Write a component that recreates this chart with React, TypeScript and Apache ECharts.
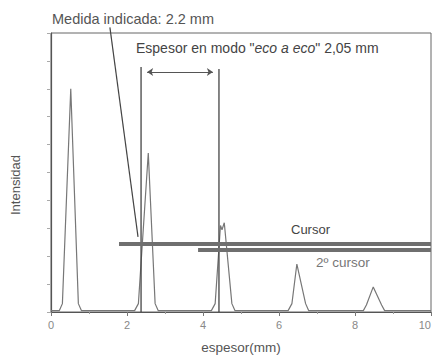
import React, { useEffect, useRef } from "react";
import * as echarts from "echarts";

// Signal trace (espesor in mm, intensity)
const signalX = [0, 0.22, 0.3, 0.52, 0.72, 0.8, 2.2, 2.3, 2.56, 2.74, 2.82, 4.22, 4.32, 4.46, 4.5, 4.56, 4.76, 4.84, 6.24, 6.34, 6.47, 6.7, 6.78, 8.22, 8.3, 8.48, 8.7, 8.78, 10];
const signalY = [0.05, 0.05, 0.3, 8.0, 0.3, 0.05, 0.05, 0.3, 5.7, 0.3, 0.05, 0.05, 0.3, 3.1, 2.95, 3.2, 0.3, 0.05, 0.05, 0.3, 1.72, 0.3, 0.05, 0.05, 0.25, 0.9, 0.25, 0.05, 0.05];

// Echo markers (vertical lines)
const echo1 = { x: 2.37, top: 8.78 };
const echo2 = { x: 4.42, top: 8.71 };
// Thickness arrow
const arrowY = 8.6;
const arrowFrom = 2.53;
const arrowTo = 4.26;
// Cursors
const cursor1 = { start: 1.79, level: 2.44 };
const cursor2 = { start: 3.87, level: 2.22 };
// Pointer from "Medida indicada"
const pointerFrom = [1.55, 10.2];
const pointerTo = [2.29, 2.69];

const xTicks = [0, 2, 4, 6, 8, 10];

export default function App() {
  const ref = useRef<HTMLDivElement>(null);
  useEffect(() => {
    const chart = echarts.init(ref.current!, null, { renderer: "svg" });
    const font = "'Liberation Sans', Arial, sans-serif";
    const textColor = "#555";
    const signal = signalX.map((x, i) => [x, signalY[i]]);
    chart.setOption({
      animation: false,
      backgroundColor: "#fff",
      grid: {
        left: 51,
        right: 4,
        top: 33,
        bottom: 44,
        outerBoundsMode: "none",
        containLabel: false,
        show: true,
        borderColor: "#666",
        borderWidth: 1,
      },
      xAxis: {
        type: "value",
        min: 0,
        max: 10,
        interval: 2,
        axisLine: { show: true, lineStyle: { color: "#555", width: 1 } },
        axisTick: { show: true, length: 4, lineStyle: { color: "#777" } },
        minorTick: { show: true, splitNumber: 2, length: 2, lineStyle: { color: "#999" } },
        splitLine: { show: false },
        axisLabel: {
          color: "#888",
          fontFamily: font,
          fontSize: 11,
          margin: 7,
          alignMaxLabel: "right",
          formatter: (v: number) => (xTicks.includes(v) ? String(v) : ""),
        },
      },
      yAxis: {
        type: "value",
        min: 0,
        max: 10,
        interval: 1,
        axisLine: { show: true, lineStyle: { color: "#555", width: 1.2 } },
        axisTick: { show: true, length: 4, lineStyle: { color: "#aaa" } },
        splitLine: { show: false },
        axisLabel: { show: false },
      },
      series: [
        {
          type: "line",
          data: signal,
          symbol: "none",
          lineStyle: { color: "#777", width: 1.2 },
          markLine: {
            silent: true,
            symbol: ["arrow", "arrow"],
            symbolSize: 6,
            label: { show: false },
            lineStyle: { color: "#555", width: 1, type: "solid" },
            data: [[{ coord: [arrowFrom, arrowY] }, { coord: [arrowTo, arrowY] }]],
          },
        },
        {
          type: "line",
          data: [[echo1.x, 0], [echo1.x, echo1.top]],
          symbol: "none",
          lineStyle: { color: "#444", width: 1.3 },
        },
        {
          type: "line",
          data: [[echo2.x, 0], [echo2.x, echo2.top]],
          symbol: "none",
          lineStyle: { color: "#444", width: 1.3 },
        },
        {
          type: "line",
          data: [[cursor1.start, cursor1.level], [10, cursor1.level]],
          symbol: "none",
          lineStyle: { color: "#6f6f6f", width: 4 },
        },
        {
          type: "line",
          data: [[cursor2.start, cursor2.level], [10, cursor2.level]],
          symbol: "none",
          lineStyle: { color: "#6f6f6f", width: 4 },
        },
        {
          type: "line",
          clip: false,
          data: [pointerFrom, pointerTo],
          symbol: "none",
          lineStyle: { color: "#444", width: 1.2 },
        },
      ],
      graphic: [
        {
          type: "text",
          left: 52,
          top: 11,
          style: { text: "Medida indicada: 2.2 mm", fill: textColor, font: `14.5px ${font}` },
        },
        {
          type: "text",
          left: 136,
          top: 41,
          style: {
            text: '{n|Espesor en modo "}{i|eco a eco}{n|" 2,05 mm}',
            rich: {
              n: { fill: "#444", fontSize: 14, fontFamily: font },
              i: { fill: "#444", fontSize: 14, fontFamily: font, fontStyle: "italic" },
            },
          },
        },
        {
          type: "text",
          left: 291,
          top: 223,
          style: { text: "Cursor", fill: "#444", font: `13px ${font}` },
        },
        {
          type: "text",
          left: 316,
          top: 255,
          style: { text: "2º cursor", fill: "#777", font: `13.5px ${font}` },
        },
        {
          type: "text",
          x: 241,
          y: 347,
          style: {
            text: "espesor(mm)",
            fill: textColor,
            font: `13.5px ${font}`,
            textAlign: "center",
            textVerticalAlign: "middle",
          },
        },
        {
          type: "text",
          x: 15,
          y: 185,
          rotation: Math.PI / 2,
          style: {
            text: "Intensidad",
            fill: textColor,
            font: `13px ${font}`,
            textAlign: "center",
            textVerticalAlign: "middle",
          },
        },
      ],
    });
    return () => chart.dispose();
  }, []);
  return (
    <div
      ref={ref}
      style={{ position: "fixed", left: 0, top: 0, width: 435, height: 356 }}
    />
  );
}
